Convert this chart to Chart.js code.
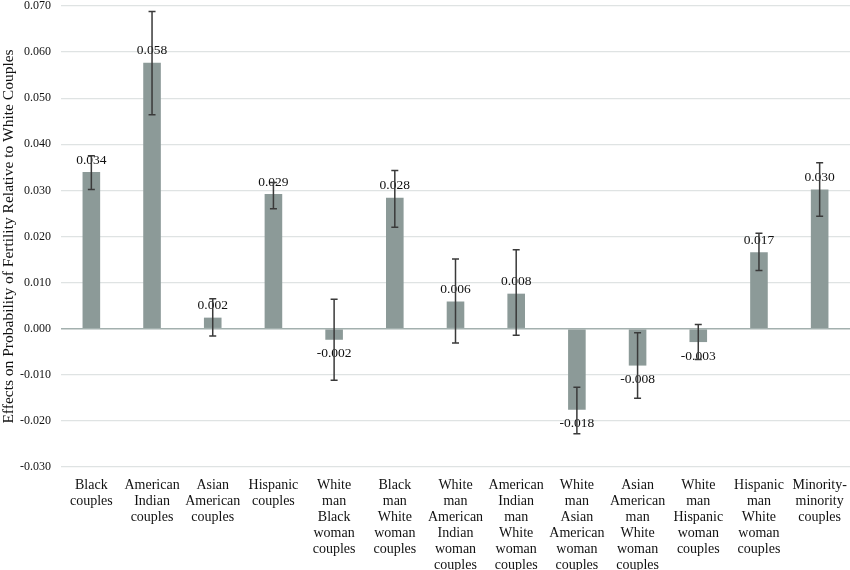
<!DOCTYPE html>
<html>
<head>
<meta charset="utf-8">
<script src="https://cdn.jsdelivr.net/npm/chart.js@4.4.0/dist/chart.umd.min.js"></script>
<style>
  html, body { margin: 0; padding: 0; background: #fff; }
  #wrap { width: 850px; height: 570px; }
</style>
</head>
<body>
<div id="wrap"><canvas id="chart"></canvas></div>
<script>
/* dados do gráfico */
const categorias = [
  ["Black", "couples"],
  ["American", "Indian", "couples"],
  ["Asian", "American", "couples"],
  ["Hispanic", "couples"],
  ["White", "man", "Black", "woman", "couples"],
  ["Black", "man", "White", "woman", "couples"],
  ["White", "man", "American", "Indian", "woman", "couples"],
  ["American", "Indian", "man", "White", "woman", "couples"],
  ["White", "man", "Asian", "American", "woman", "couples"],
  ["Asian", "American", "man", "White", "woman", "couples"],
  ["White", "man", "Hispanic", "woman", "couples"],
  ["Hispanic", "man", "White", "woman", "couples"],
  ["Minority-", "minority", "couples"]
];
const valores = [0.0340, 0.0577, 0.0024, 0.0292, -0.0024, 0.0284, 0.0059, 0.0076, -0.0176, -0.0080, -0.0029, 0.0166, 0.0302];
const erroAlto = [0.0375, 0.0688, 0.0065, 0.0317, 0.0064, 0.0343, 0.0151, 0.0171, -0.0127, -0.0009, 0.0009, 0.0207, 0.0360];
const erroBaixo = [0.0302, 0.0464, -0.0016, 0.0260, -0.0112, 0.0220, -0.0031, -0.0014, -0.0228, -0.0151, -0.0067, 0.0126, 0.0244];
const ticksY = [-0.03, -0.02, -0.01, 0, 0.01, 0.02, 0.03, 0.04, 0.05, 0.06, 0.07];

const fonte = "'Liberation Serif', 'Times New Roman', serif";

/* plugin: barras de erro + rótulos */
const erros = {
  id: "erros",
  afterDatasetsDraw(chart) {
    const ctx = chart.ctx;
    const y = chart.scales.y;
    const meta = chart.getDatasetMeta(0);
    ctx.save();
    // rótulos primeiro, barras de erro por cima
    ctx.font = "13.5px " + fonte;
    ctx.fillStyle = "#111";
    ctx.textAlign = "center";
    ctx.textBaseline = "middle";
    meta.data.forEach((bar, i) => {
      const v = valores[i];
      const py = v >= 0 ? bar.y - 12 : bar.y + 14;
      ctx.fillText(v.toFixed(3), bar.x, py);
    });
    ctx.strokeStyle = "#3a3a3a";
    ctx.lineWidth = 1.5;
    meta.data.forEach((bar, i) => {
      const yt = y.getPixelForValue(erroAlto[i]);
      const yb = y.getPixelForValue(erroBaixo[i]);
      ctx.beginPath();
      ctx.moveTo(bar.x, yt); ctx.lineTo(bar.x, yb);
      ctx.moveTo(bar.x - 3.5, yt); ctx.lineTo(bar.x + 3.5, yt);
      ctx.moveTo(bar.x - 3.5, yb); ctx.lineTo(bar.x + 3.5, yb);
      ctx.stroke();
    });
    ctx.restore();
  }
};

const config = {
  type: "bar",
  data: {
    labels: categorias,
    datasets: [{
      data: valores,
      backgroundColor: "#8c9a98",
      barPercentage: 0.29,
      categoryPercentage: 1.0
    }]
  },
  options: {
    responsive: true,
    maintainAspectRatio: false,
    animation: false,
    layout: { padding: { top: 6, right: 0, left: 0, bottom: 0 } },
    plugins: { legend: { display: false }, tooltip: { enabled: false } },
    scales: {
      x: {
        grid: { display: false },
        border: { display: false },
        ticks: {
          color: "#111",
          font: { family: fonte, size: 14, lineHeight: 1.15 },
          maxRotation: 0,
          autoSkip: false,
          padding: 2
        },
        afterFit(scale) {
          scale.height = 103;
          scale.paddingLeft = 0;
          scale.paddingRight = 0;
        }
      },
      y: {
        min: -0.03,
        max: 0.07,
        afterBuildTicks(scale) { scale.ticks = ticksY.map(v => ({ value: v })); },
        afterFit(scale) {
          scale.width = 61;
          scale.paddingTop = 0;
          scale.paddingBottom = 0;
        },
        grid: {
          color: c => (c.tick && c.tick.value === 0 ? "#a3b0ae" : "#dfe3e3"),
          lineWidth: c => (c.tick && c.tick.value === 0 ? 1.5 : 1.3),
          drawTicks: false
        },
        border: { display: false },
        ticks: {
          color: "#111",
          font: { family: fonte, size: 12 },
          padding: 10,
          callback: v => Number(v).toFixed(3)
        },
        title: {
          display: true,
          text: "Effects on Probability of Fertility Relative to White Couples",
          color: "#111",
          font: { family: fonte, size: 15.5 },
          padding: { top: 0, bottom: 2 }
        }
      }
    }
  },
  plugins: [erros]
};

let myChart = new Chart(document.getElementById("chart"), config);
</script>
</body>
</html>
